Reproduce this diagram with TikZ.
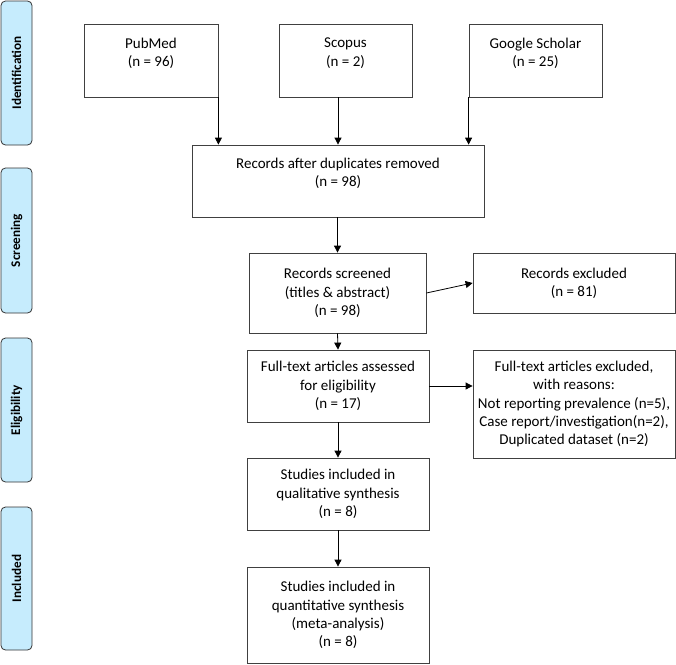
\documentclass[tikz,border=0pt]{standalone}
\usepackage{fontspec}
\setmainfont{Carlito}
\usetikzlibrary{arrows.meta}
\definecolor{phasefill}{HTML}{C6ECFD}
\definecolor{boxline}{HTML}{404040}
\tikzset{
  box/.style={draw=boxline, line width=0.8pt, align=center, inner sep=0pt,
    font=\fontsize{15}{18.3}\selectfont},
  phase/.style={draw=black!80, line width=0.8pt, fill=phasefill, rounded corners=4.5pt,
    rotate=90, inner sep=0pt, minimum height=31pt,
    font=\fontsize{13.2}{15}\selectfont\bfseries},
  arr/.style={-{Triangle[length=7pt,width=7pt]}, line width=0.8pt, black}
}
\begin{document}
\begin{tikzpicture}[x=1pt,y=-1pt]
\useasboundingbox (0,0) rectangle (676,664);
% phase labels
\node[phase, minimum width=144pt] (pid) at (16.5,73) {Identification};
\node[phase, minimum width=145pt] (psc) at (16.5,240.5) {Screening};
\node[phase, minimum width=144pt] (pel) at (16.5,410) {Eligibility};
\node[phase, minimum width=143pt] (pin) at (16.5,578.5) {Included};
% boxes
\node[box, minimum width=134pt, minimum height=73pt] (pub) at (151,60.5) {PubMed\\(n = 96)\\[-7pt]\strut};
\node[box, minimum width=133pt, minimum height=73pt] (sco) at (345.5,60.5) {Scopus\\(n = 2)\\[-7pt]\strut};
\node[box, minimum width=133pt, minimum height=73pt] (goo) at (535.5,60.5) {Google Scholar\\(n = 25)\\[-7pt]\strut};
\node[box, minimum width=292pt, minimum height=72pt] (rad) at (338,181) {Records after duplicates removed\\(n = 98)\\[-7pt]\strut};
\node[box, minimum width=177pt, minimum height=80pt] (scr) at (337.5,293) {Records screened\\(titles \& abstract)\\(n = 98)};
\node[box, minimum width=202pt, minimum height=60pt] (exc) at (574,283) {Records excluded\\(n = 81)};
\node[box, minimum width=182pt, minimum height=72pt] (ft) at (338,386) {Full-text articles assessed\\for eligibility\\(n = 17)};
\node[box, minimum width=202pt, minimum height=108pt] (fte) at (574,404) {Full-text articles excluded,\\with reasons:\\Not reporting prevalence (n=5),\\Case report/investigation(n=2),\\Duplicated dataset (n=2)};
\node[box, minimum width=182pt, minimum height=72pt] (qual) at (338,494) {Studies included in\\qualitative synthesis\\(n = 8)};
\node[box, minimum width=182pt, minimum height=96pt] (quan) at (338,615) {Studies included in\\quantitative synthesis\\(meta-analysis)\\(n = 8)};
% connectors
\draw[arr] (pub.south east) -- (pub.south east |- rad.north);
\draw[arr] (rad.north |- sco.south) -- (rad.north);
\draw[arr] (goo.south west) -- (goo.south west |- rad.north);
\draw[arr] (scr.north |- rad.south) -- (scr.north);
\draw[arr] (scr.east) -- (exc.west);
\draw[arr] (scr.south) -- (ft.north);
\draw[arr] (ft.east) -- (ft.east -| fte.west);
\draw[arr] (ft.south) -- (qual.north);
\draw[arr] (qual.south) -- (quan.north);
\end{tikzpicture}
\end{document}
